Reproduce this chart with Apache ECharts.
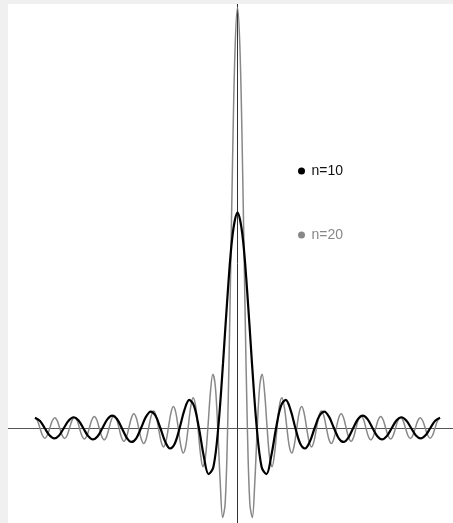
<!DOCTYPE html>
<html><head><meta charset="utf-8">
<script src="https://cdn.jsdelivr.net/npm/echarts@6/dist/echarts.min.js"></script>
<style>
html,body{margin:0;padding:0;background:#f0f0f0;width:453px;height:523px;overflow:hidden}
#c{position:absolute;left:8px;top:4px;width:445px;height:519px;background:#fff}
</style></head><body><div id="c"></div>
<script>
const seriesNames = ['n=10', 'n=20'];

// n = 10 : x (radians) and D_n(x)
const x10 = [-3.1416,-3.0668,-2.9920,-2.9172,-2.8424,-2.7676,-2.6928,-2.6180,-2.5432,-2.4684,-2.3936,-2.3188,-2.2440,-2.1692,-2.0944,-2.0196,-1.9448,-1.8700,-1.7952,-1.7204,-1.6456,-1.5708,-1.4960,-1.4212,-1.3464,-1.2716,-1.1968,-1.1220,-1.0472,-0.9724,-0.8976,-0.8228,-0.7480,-0.6732,-0.5984,-0.5236,-0.4488,-0.3740,-0.2992,-0.2244,-0.1496,-0.0748,
0,
0.0748,0.1496,0.2244,0.2992,0.3740,0.4488,0.5236,0.5984,0.6732,0.7480,0.8228,0.8976,0.9724,1.0472,1.1220,1.1968,1.2716,1.3464,1.4212,1.4960,1.5708,1.6456,1.7204,1.7952,1.8700,1.9448,2.0196,2.0944,2.1692,2.2440,2.3188,2.3936,2.4684,2.5432,2.6180,2.6928,2.7676,2.8424,2.9172,2.9920,3.0668,3.1416];
const y10 = [1.00,0.71,0,-0.71,-1.01,-0.72,0,0.73,1.05,0.75,0,-0.77,-1.11,-0.80,0,0.84,1.21,0.88,0,-0.93,-1.36,-1.00,0,1.08,1.60,1.19,0,-1.33,-2.00,-1.51,0,1.77,2.74,2.14,0,-2.73,-4.49,-3.80,0,6.32,13.38,18.91,
21,
18.91,13.38,6.32,0,-3.80,-4.49,-2.73,0,2.14,2.74,1.77,0,-1.51,-2.00,-1.33,0,1.19,1.60,1.08,0,-1.00,-1.36,-0.93,0,0.88,1.21,0.84,0,-0.80,-1.11,-0.77,0,0.75,1.05,0.73,0,-0.72,-1.01,-0.71,0,0.71,1.00];

// n = 20
const x20 = [-3.1416,-3.1033,-3.0650,-3.0267,-2.9883,-2.9500,-2.9117,-2.8734,-2.8351,-2.7968,-2.7585,-2.7202,-2.6818,-2.6435,-2.6052,-2.5669,-2.5286,-2.4903,-2.4520,-2.4137,-2.3754,-2.3370,-2.2987,-2.2604,-2.2221,-2.1838,-2.1455,-2.1072,-2.0689,-2.0305,-1.9922,-1.9539,-1.9156,-1.8773,-1.8390,-1.8007,-1.7624,-1.7240,-1.6857,-1.6474,-1.6091,-1.5708,-1.5325,-1.4942,-1.4559,-1.4175,-1.3792,-1.3409,-1.3026,-1.2643,-1.2260,-1.1877,-1.1494,-1.1111,-1.0727,-1.0344,-0.9961,-0.9578,-0.9195,-0.8812,-0.8429,-0.8046,-0.7662,-0.7279,-0.6896,-0.6513,-0.6130,-0.5747,-0.5364,-0.4981,-0.4597,-0.4214,-0.3831,-0.3448,-0.3065,-0.2682,-0.2299,-0.1916,-0.1532,-0.1149,-0.0766,-0.0383,
0,
0.0383,0.0766,0.1149,0.1532,0.1916,0.2299,0.2682,0.3065,0.3448,0.3831,0.4214,0.4597,0.4981,0.5364,0.5747,0.6130,0.6513,0.6896,0.7279,0.7662,0.8046,0.8429,0.8812,0.9195,0.9578,0.9961,1.0344,1.0727,1.1111,1.1494,1.1877,1.2260,1.2643,1.3026,1.3409,1.3792,1.4175,1.4559,1.4942,1.5325,1.5708,1.6091,1.6474,1.6857,1.7240,1.7624,1.8007,1.8390,1.8773,1.9156,1.9539,1.9922,2.0305,2.0689,2.1072,2.1455,2.1838,2.2221,2.2604,2.2987,2.3370,2.3754,2.4137,2.4520,2.4903,2.5286,2.5669,2.6052,2.6435,2.6818,2.7202,2.7585,2.7968,2.8351,2.8734,2.9117,2.9500,2.9883,3.0267,3.0650,3.1033,3.1416];
const y20 = [1.00,0.71,0,-0.71,-1.00,-0.71,0,0.71,1.01,0.72,0,-0.72,-1.03,-0.73,0,0.74,1.05,0.75,0,-0.76,-1.08,-0.77,0,0.78,1.12,0.80,0,-0.81,-1.16,-0.83,0,0.85,1.22,0.88,0,-0.90,-1.30,-0.93,0,0.96,1.39,1.00,0,-1.04,-1.50,-1.09,0,1.14,1.65,1.20,0,-1.26,-1.84,-1.34,0,1.43,2.09,1.53,0,-1.66,-2.44,-1.81,0,1.99,2.96,2.21,0,-2.50,-3.77,-2.87,0,3.38,5.25,4.12,0,-5.29,-8.72,-7.39,0,12.31,26.11,36.91,
41,
36.91,26.11,12.31,0,-7.39,-8.72,-5.29,0,4.12,5.25,3.38,0,-2.87,-3.77,-2.50,0,2.21,2.96,1.99,0,-1.81,-2.44,-1.66,0,1.53,2.09,1.43,0,-1.34,-1.84,-1.26,0,1.20,1.65,1.14,0,-1.09,-1.50,-1.04,0,1.00,1.39,0.96,0,-0.93,-1.30,-0.90,0,0.88,1.22,0.85,0,-0.83,-1.16,-0.81,0,0.80,1.12,0.78,0,-0.77,-1.08,-0.76,0,0.75,1.05,0.74,0,-0.73,-1.03,-0.72,0,0.72,1.01,0.71,0,-0.71,-1.00,-0.71,0,0.71,1.00];

const zip = (xs, ys) => xs.map((x, i) => [x, ys[i]]);

const chart = echarts.init(document.getElementById('c'), null, {renderer: 'canvas'});
const FONT = '"Liberation Sans", Arial, sans-serif';
chart.setOption({
  animation: false,
  backgroundColor: '#ffffff',
  grid: {left: 0, right: 0, top: 0, bottom: 0, containLabel: false},
  xAxis: {
    type: 'value', min: -3.5604, max: 3.3431,
    axisLine: {show: true, onZero: true, lineStyle: {color: '#555', width: 1}},
    axisTick: {show: false}, axisLabel: {show: false}, splitLine: {show: false}
  },
  yAxis: {
    type: 'value', min: -9.26, max: 41.33,
    axisLine: {show: true, onZero: true, lineStyle: {color: '#333', width: 1}},
    axisTick: {show: false}, axisLabel: {show: false}, splitLine: {show: false}
  },
  legend: [
    {data: [seriesNames[0]], orient: 'vertical', left: 285, top: 155, icon: 'circle',
     itemWidth: 10, itemHeight: 7, selectedMode: false,
     textStyle: {color: '#111', fontSize: 14, fontFamily: FONT}},
    {data: [seriesNames[1]], orient: 'vertical', left: 285, top: 219, icon: 'circle',
     itemWidth: 10, itemHeight: 7, selectedMode: false,
     textStyle: {color: '#888', fontSize: 14, fontFamily: FONT}}
  ],
  series: [
    {name: seriesNames[1], type: 'line', data: zip(x20, y20), showSymbol: false, smooth: 0.35,
     color: '#888', lineStyle: {color: '#888', width: 1.5}, z: 2},
    {name: seriesNames[0], type: 'line', data: zip(x10, y10), showSymbol: false, smooth: 0.35,
     color: '#000', lineStyle: {color: '#000', width: 2.2}, z: 3}
  ]
});
</script></body></html>
